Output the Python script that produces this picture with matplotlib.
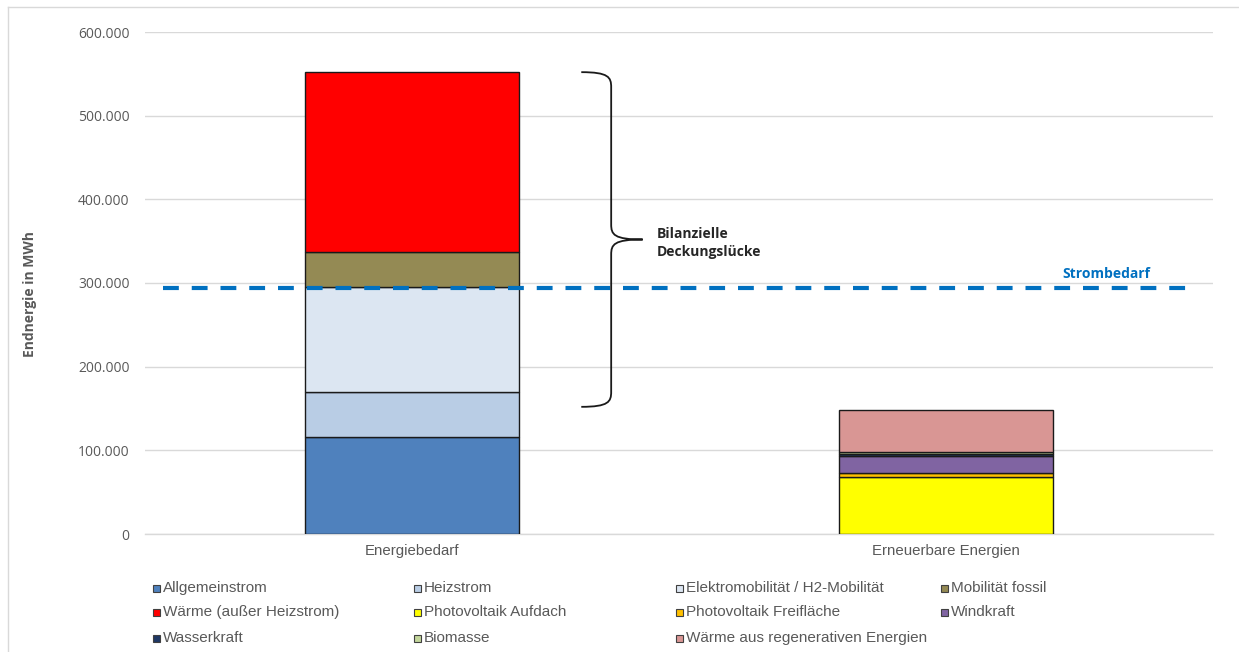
import numpy as np
import matplotlib.pyplot as plt
from matplotlib.path import Path
from matplotlib.patches import PathPatch, Rectangle
from matplotlib.ticker import FuncFormatter
from matplotlib.lines import Line2D

# Data (MWh)
categories = ["Energiebedarf", "Erneuerbare Energien"]
series_names = [
    "Allgemeinstrom", "Heizstrom", "Elektromobilität / H2-Mobilität", "Mobilität fossil",
    "Wärme (außer Heizstrom)", "Photovoltaik Aufdach", "Photovoltaik Freifläche", "Windkraft",
    "Wasserkraft", "Biomasse", "Wärme aus regenerativen Energien",
]
energiebedarf = [116000, 54000, 125000, 42000, 215000, 0, 0, 0, 0, 0, 0]
erneuerbare = [0, 0, 0, 0, 0, 68500, 5000, 20000, 2000, 2000, 50500]
strombedarf = 294000

colors = ["#4F81BD", "#B9CDE5", "#DCE6F2", "#948A54", "#FF0000", "#FFFF00",
          "#FFC000", "#8064A2", "#1F3864", "#C3D69B", "#D99694"]

fig = plt.figure(figsize=(12.39, 6.52), dpi=100)
ax = fig.add_axes([145 / 1239, 1 - 534 / 652, (1213 - 145) / 1239, (534 - 32) / 652])

x = np.arange(len(categories))
bottoms = np.zeros(len(categories))
for i, name in enumerate(series_names):
    vals = np.array([energiebedarf[i], erneuerbare[i]], dtype=float)
    keep = vals > 0
    ax.bar(x[keep], vals[keep], width=0.4, bottom=bottoms[keep], color=colors[i],
           edgecolor="#1a1a1a", linewidth=1.0, zorder=3)
    bottoms += vals

ax.set_xlim(-0.5, 1.5)
ax.set_ylim(0, 600000)
ax.set_yticks(np.arange(0, 600001, 100000))
ax.yaxis.set_major_formatter(FuncFormatter(lambda v, p: f"{int(v):,}".replace(",", ".")))
ax.set_xticks(x)
ax.set_xticklabels(categories, fontsize=10.8, color="#595959", family="Liberation Sans")
ax.tick_params(axis="both", length=0)
ax.tick_params(axis="y", labelsize=10, labelcolor="#595959", pad=11)
ax.tick_params(axis="x", pad=7)
for lab in ax.get_yticklabels():
    lab.set_family("Open Sans")
ax.grid(axis="y", color="#D9D9D9", linewidth=1.0, zorder=0)
for s in ["top", "right", "left"]:
    ax.spines[s].set_visible(False)
ax.spines["bottom"].set_color("#D9D9D9")
ax.spines["bottom"].set_linewidth(1.0)

# Strombedarf line
ax.plot([-0.466, 1.46], [strombedarf, strombedarf], color="#0070C0", lw=3,
        dashes=(3.8, 3.1), zorder=4)
ax.text(1.3, strombedarf + 8000, "Strombedarf", color="#0070C0", fontsize=10,
        fontweight="bold", family="Open Sans", ha="center", va="bottom")

# Brace for the coverage gap
top = sum(energiebedarf)
low = 152000
mid = (top + low) / 2
x0, x1, x2 = 0.317, 0.373, 0.432
r = 6000
verts = [
    (x0, top), (x1 - 0.005, top), (x1, top - r), (x1, top - 3 * r),
    (x1, mid + 3 * r),
    (x1, mid + r), (x1 + 0.005, mid), (x2, mid),
    (x1 + 0.005, mid), (x1, mid - r), (x1, mid - 3 * r),
    (x1, low + 3 * r),
    (x1, low + r), (x1 - 0.005, low), (x0, low),
]
codes = [Path.MOVETO, Path.CURVE4, Path.CURVE4, Path.CURVE4,
         Path.LINETO,
         Path.CURVE4, Path.CURVE4, Path.CURVE4,
         Path.CURVE4, Path.CURVE4, Path.CURVE4,
         Path.LINETO,
         Path.CURVE4, Path.CURVE4, Path.CURVE4]
ax.add_patch(PathPatch(Path(verts, codes), fill=False, lw=1.3, edgecolor="#1a1a1a", zorder=5))
ax.text(0.458, mid - 4000, "Bilanzielle\nDeckungslücke", fontsize=10, fontweight="bold",
        family="Open Sans", color="#262626", va="center", ha="left", linespacing=1.4)

# Y label
fig.text(30 / 1239, 1 - 294 / 652, "Endnergie in MWh", rotation=90, fontsize=10,
         fontweight="bold", color="#595959", family="Open Sans", ha="center", va="center")

# Legend, drawn by hand in rows of four
col_x = [157, 418, 680, 945]
row_y = [588, 612, 638]
for i, name in enumerate(series_names):
    px = col_x[i % 4]
    py = row_y[i // 4]
    fig.patches.append(Rectangle(((px - 4) / 1239, 1 - (py + 4) / 652), 7 / 1239, 7 / 652,
                                 transform=fig.transFigure, facecolor=colors[i],
                                 edgecolor="#404040", linewidth=0.8))
    fig.text((px + 6) / 1239, 1 - py / 652, name, fontsize=11, color="#595959",
             family="Liberation Sans", va="center", ha="left")

# Outer frame
fig.add_artist(Line2D([8 / 1239, 8 / 1239], [0, 1 - 7 / 652], transform=fig.transFigure,
                      color="#D9D9D9", lw=1))
fig.add_artist(Line2D([8 / 1239, 1], [1 - 7 / 652, 1 - 7 / 652], transform=fig.transFigure,
                      color="#D9D9D9", lw=1))

fig.savefig("out.png", dpi=100)
